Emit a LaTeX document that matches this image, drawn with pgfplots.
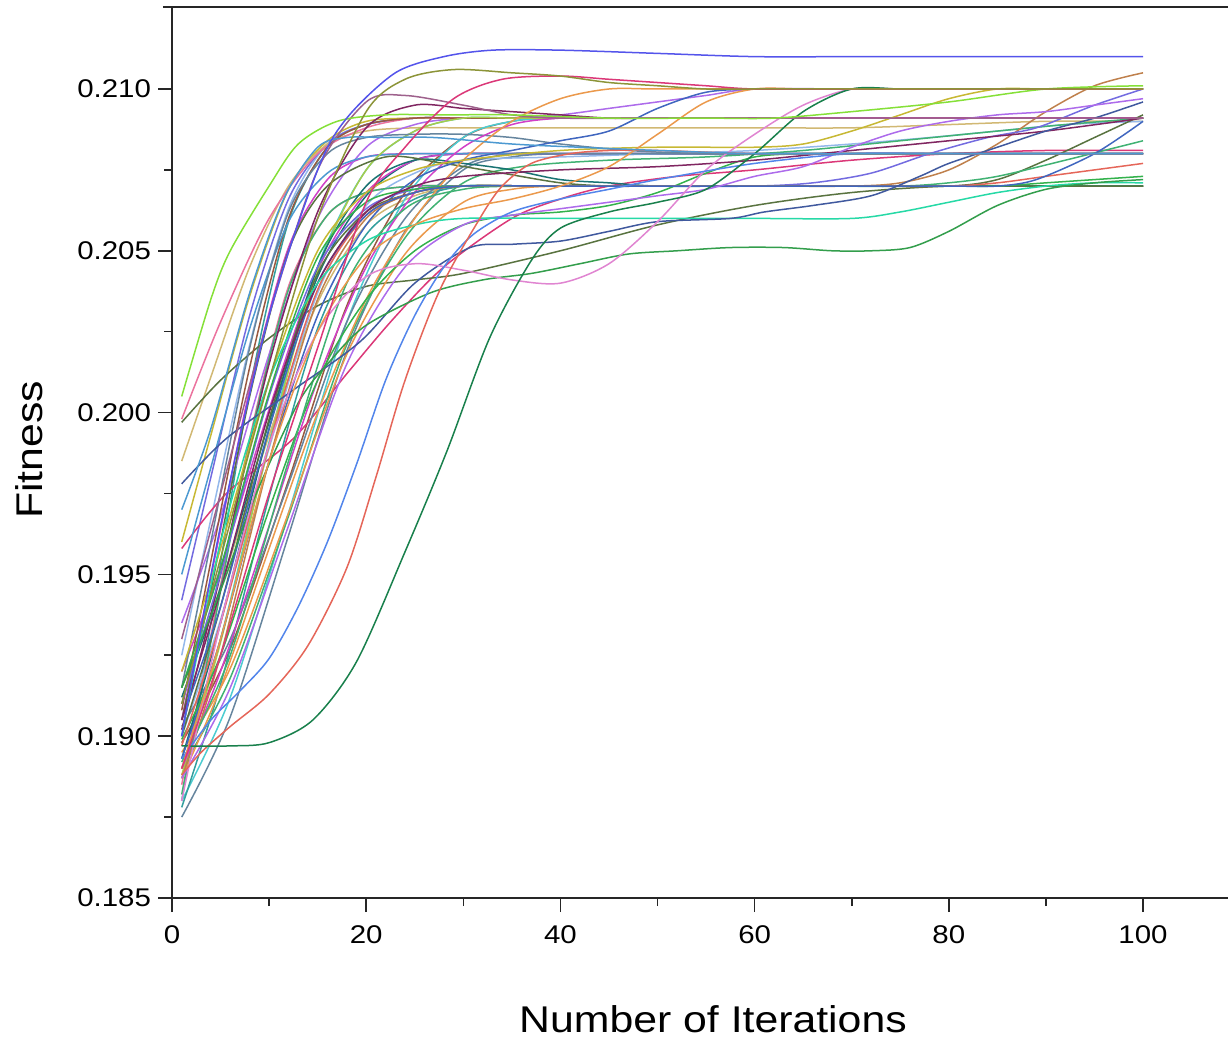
\documentclass[border=0pt]{standalone}
\usepackage{fontspec}
\setmainfont{Liberation Sans}[FakeStretch=1.15]
\usepackage{pgfplots}
\pgfplotsset{compat=1.18}
\newcommand\tickfont{\fontsize{12.8bp}{15bp}\selectfont}
\newcommand\labfont{\fontsize{18.6bp}{22bp}\selectfont}
\definecolor{cA}{rgb}{0.33,0.33,0.92}
\definecolor{cB}{rgb}{0.55,0.58,0.22}
\definecolor{cC}{rgb}{0.86,0.22,0.47}
\definecolor{cD}{rgb}{0.52,0.88,0.22}
\definecolor{cE}{rgb}{0.30,0.60,0.82}
\definecolor{cF}{rgb}{0.62,0.38,0.55}
\definecolor{cG}{rgb}{0.10,0.50,0.30}
\definecolor{cH}{rgb}{0.90,0.40,0.35}
\definecolor{cI}{rgb}{0.32,0.52,0.92}
\definecolor{cJ}{rgb}{0.88,0.52,0.82}
\definecolor{cK}{rgb}{0.20,0.62,0.30}
\definecolor{cL}{rgb}{0.25,0.35,0.62}
\definecolor{cM}{rgb}{0.15,0.85,0.65}
\definecolor{cN}{rgb}{0.75,0.50,0.30}
\definecolor{cO}{rgb}{0.78,0.72,0.20}
\definecolor{cP}{rgb}{0.68,0.42,0.92}
\definecolor{cQ}{rgb}{0.50,0.15,0.38}
\definecolor{cR}{rgb}{0.20,0.62,0.62}
\definecolor{cS}{rgb}{0.30,0.80,0.82}
\definecolor{cT}{rgb}{0.45,0.42,0.88}
\definecolor{cU}{rgb}{0.35,0.45,0.25}
\definecolor{cV}{rgb}{0.82,0.25,0.78}
\definecolor{cW}{rgb}{0.92,0.60,0.30}
\definecolor{cX}{rgb}{0.82,0.72,0.45}
\definecolor{cY}{rgb}{0.58,0.72,0.92}
\definecolor{cZ}{rgb}{0.40,0.52,0.62}
\definecolor{ca}{rgb}{0.15,0.25,0.55}
\definecolor{cb}{rgb}{0.25,0.70,0.45}
\definecolor{cc}{rgb}{0.92,0.45,0.62}
\definecolor{cd}{rgb}{0.60,0.35,0.25}
\definecolor{ce}{rgb}{0.65,0.80,0.30}
\definecolor{cf}{rgb}{0.10,0.45,0.45}
\definecolor{cg}{rgb}{0.20,0.70,0.30}
\definecolor{ch}{rgb}{0.25,0.40,0.75}
\begin{document}
\begin{tikzpicture}
\useasboundingbox (-86bp,-72.5bp) rectangle (528bp,449bp);
\begin{axis}[
 name=ax, at={(0,0)}, anchor=south west,
 scale only axis, width=528bp, height=445.5bp,
 xmin=0, xmax=108.75, ymin=0.185, ymax=0.212534,
 axis lines=left, axis line style={-, line width=0.8bp, black!85},
 tick style={line width=0.8bp, black!85},
 tick align=outside, major tick length=7bp, minor tick length=4bp,
 xtick={0,20,40,60,80,100}, minor xtick={10,30,50,70,90},
 ytick={0.185,0.190,0.195,0.200,0.205,0.210},
 minor ytick={0.1875,0.1925,0.1975,0.2025,0.2075},
 scaled y ticks=false,
 yticklabel style={/pgf/number format/fixed, /pgf/number format/fixed zerofill, /pgf/number format/precision=3},
 xticklabel style={yshift=-3.5bp},
 tick label style={font=\tickfont, /pgf/number format/assume math mode=true},
 xlabel={Number of Iterations}, ylabel={Fitness},
 every axis x label/.style={at={(axis description cs:0.5123,-0.1504)}, anchor=base, font=\labfont},
 every axis y label/.style={at={(axis description cs:-0.1231,0.5028)}, anchor=base, rotate=90, font=\labfont},
 every axis plot/.append style={smooth, line width=0.75bp, no markers},
]
% generic curves
\addplot[cR] coordinates {(1,0.1880)(4,0.1935)(8,0.2007)(12,0.2059)(16,0.2082)(20,0.2089)(25,0.2091)(30,0.2091)(40,0.2091)(50,0.2091)(60,0.2091)(70,0.2091)(80,0.2091)(90,0.2091)(100,0.2091)};
\addplot[cS] coordinates {(1,0.1890)(5,0.1930)(10,0.1991)(15,0.2045)(20,0.2075)(25,0.2087)(30,0.2091)(35,0.2091)(40,0.2091)(50,0.2091)(60,0.2091)(70,0.2091)(80,0.2091)(90,0.2091)(100,0.2091)};
\addplot[cV] coordinates {(1,0.1905)(4,0.1949)(8,0.2007)(12,0.2051)(16,0.2072)(20,0.2079)(25,0.2080)(30,0.2080)(40,0.2080)(50,0.2080)(60,0.2080)(70,0.2080)(80,0.2080)(90,0.2080)(100,0.2080)};
\addplot[cX] coordinates {(1,0.1915)(5,0.1946)(10,0.1993)(15,0.2034)(20,0.2058)(25,0.2067)(30,0.2070)(35,0.2070)(40,0.2070)(50,0.2070)(60,0.2070)(70,0.2070)(80,0.2070)(90,0.2070)(100,0.2070)};
\addplot[cY] coordinates {(1,0.1925)(4,0.1967)(8,0.2021)(12,0.2063)(16,0.2083)(20,0.2089)(25,0.2091)(30,0.2091)(40,0.2091)(50,0.2091)(60,0.2091)(70,0.2091)(80,0.2091)(90,0.2091)(100,0.2091)};
\addplot[cZ] coordinates {(1,0.1875)(6,0.1906)(12,0.1962)(18,0.2019)(24,0.2056)(30,0.2075)(35,0.2079)(40,0.2080)(50,0.2080)(60,0.2080)(70,0.2080)(80,0.2080)(90,0.2080)(100,0.2080)};
\addplot[cT] coordinates {(1,0.1942)(4,0.1980)(8,0.2030)(12,0.2066)(16,0.2083)(20,0.2089)(25,0.2091)(30,0.2091)(40,0.2091)(50,0.2091)(60,0.2091)(70,0.2091)(80,0.2091)(90,0.2091)(100,0.2091)};
\addplot[cc] coordinates {(1,0.1885)(4,0.1931)(8,0.1992)(12,0.2039)(16,0.2061)(20,0.2068)(25,0.2070)(30,0.2070)(40,0.2070)(50,0.2070)(60,0.2070)(70,0.2070)(80,0.2070)(90,0.2070)(100,0.2070)};
\addplot[cd] coordinates {(1,0.1898)(6,0.1927)(12,0.1979)(18,0.2033)(24,0.2068)(30,0.2085)(35,0.2090)(40,0.2091)(50,0.2091)(60,0.2091)(70,0.2091)(80,0.2091)(90,0.2091)(100,0.2091)};
\addplot[cf] coordinates {(1,0.1912)(5,0.1946)(10,0.1997)(15,0.2042)(20,0.2067)(25,0.2078)(30,0.2080)(35,0.2080)(40,0.2080)(50,0.2080)(60,0.2080)(70,0.2080)(80,0.2080)(90,0.2080)(100,0.2080)};
\addplot[cC] coordinates {(1,0.1958)(5.6,0.1975)(12.5,0.1992)(18,0.2012)(22.8,0.2029)(28,0.2045)(35,0.2060)(40,0.2066)(45,0.2070)(52,0.2073)(60,0.2075)(70,0.2078)(80,0.2080)(90,0.2081)(100,0.2081)};
\addplot[cO] coordinates {(1,0.1960)(4,0.1993)(8,0.2036)(12,0.2069)(16,0.2084)(20,0.2090)(25,0.2091)(30,0.2091)(40,0.2091)(50,0.2091)(60,0.2091)(70,0.2091)(80,0.2091)(90,0.2091)(100,0.2091)};
\addplot[cX] coordinates {(1,0.1985)(4,0.2011)(8,0.2045)(12,0.2070)(16,0.2083)(20,0.2087)(25,0.2088)(30,0.2088)(40,0.2088)(50,0.2088)(60,0.2088)(70,0.2088)(80,0.2089)(90,0.2090)(100,0.2090)};
\addplot[cc] coordinates {(1,0.1998)(5,0.2028)(10,0.2060)(15,0.2080)(20,0.2088)(25,0.2091)(30,0.2091)(40,0.2091)(50,0.2091)(60,0.2091)(70,0.2091)(80,0.2091)(90,0.2091)(100,0.2091)};
\addplot[cU] coordinates {(1,0.1997)(5,0.2010)(10,0.2023)(15,0.2033)(20,0.2039)(25,0.2041)(30,0.2043)(40,0.2050)(50,0.2058)(60,0.2064)(70,0.2068)(80,0.2070)(90,0.2070)(100,0.2070)};
\addplot[cV] coordinates {(1,0.1920)(5,0.1952)(10,0.2001)(15,0.2044)(20,0.2068)(25,0.2078)(30,0.2080)(35,0.2080)(40,0.2080)(50,0.2080)(60,0.2080)(70,0.2080)(80,0.2080)(90,0.2080)(100,0.2080)};
\addplot[cS] coordinates {(1,0.1880)(6,0.1912)(12,0.1969)(18,0.2028)(24,0.2066)(30,0.2085)(35,0.2090)(40,0.2091)(50,0.2091)(60,0.2091)(70,0.2091)(80,0.2091)(90,0.2091)(100,0.2091)};
\addplot[cR] coordinates {(1,0.1878)(5,0.1916)(10,0.1974)(15,0.2026)(20,0.2055)(25,0.2066)(30,0.2070)(35,0.2070)(40,0.2070)(50,0.2070)(60,0.2070)(70,0.2070)(80,0.2070)(90,0.2070)(100,0.2070)};
\addplot[cY] coordinates {(1,0.1900)(5,0.1936)(10,0.1989)(15,0.2037)(20,0.2064)(25,0.2074)(30,0.2078)(40,0.2079)(50,0.2080)(60,0.2081)(70,0.2083)(78,0.2085)(85,0.2087)(92,0.2089)(100,0.2090)};
\addplot[cb] coordinates {(1,0.1890)(6,0.1918)(12,0.1968)(18,0.2021)(24,0.2054)(30,0.2071)(36,0.2076)(45,0.2078)(55,0.2079)(65,0.2081)(75,0.2084)(85,0.2087)(92,0.2089)(100,0.2091)};
\addplot[cP] coordinates {(1,0.1935)(5,0.1968)(10,0.2018)(15,0.2060)(20,0.2082)(25,0.2089)(30,0.2091)(35,0.2091)(40,0.2092)(45,0.2094)(50,0.2096)(55,0.2098)(60,0.2100)(70,0.2100)(80,0.2100)(90,0.2100)(100,0.2100)};
\addplot[cd] coordinates {(1,0.1908)(4,0.1954)(8,0.2014)(12,0.2060)(16,0.2082)(20,0.2089)(25,0.2091)(30,0.2091)(40,0.2091)(50,0.2091)(60,0.2091)(70,0.2091)(80,0.2091)(90,0.2091)(100,0.2091)};
\addplot[cW] coordinates {(1,0.1895)(6,0.1921)(12,0.1969)(18,0.2018)(24,0.2049)(30,0.2065)(35,0.2069)(40,0.2070)(50,0.2070)(60,0.2070)(70,0.2070)(80,0.2070)(90,0.2070)(100,0.2070)};
\addplot[cE] coordinates {(1,0.1950)(4,0.1983)(8,0.2026)(12,0.2059)(16,0.2074)(20,0.2079)(25,0.2080)(30,0.2080)(40,0.2080)(50,0.2080)(60,0.2080)(70,0.2080)(80,0.2080)(90,0.2080)(100,0.2080)};
\addplot[ce] coordinates {(1,0.1888)(5,0.1929)(10,0.1990)(15,0.2044)(20,0.2075)(25,0.2087)(30,0.2091)(35,0.2091)(40,0.2091)(50,0.2091)(60,0.2091)(70,0.2091)(80,0.2091)(90,0.2091)(100,0.2091)};
\addplot[cZ] coordinates {(1,0.1903)(6,0.1930)(12,0.1978)(18,0.2028)(24,0.2060)(30,0.2076)(35,0.2080)(40,0.2080)(50,0.2080)(60,0.2080)(70,0.2080)(80,0.2080)(90,0.2080)(100,0.2080)};
\addplot[cb] coordinates {(1,0.1882)(4,0.1929)(8,0.1991)(12,0.2038)(16,0.2061)(20,0.2068)(25,0.2070)(30,0.2070)(40,0.2070)(50,0.2070)(60,0.2070)(70,0.2070)(80,0.2070)(90,0.2070)(100,0.2070)};
\addplot[cf] coordinates {(1,0.1893)(5,0.1935)(10,0.1995)(15,0.2045)(20,0.2070)(25,0.2078)(30,0.2077)(35,0.2075)(40,0.2072)(45,0.2071)(50,0.2070)(60,0.2070)(70,0.2070)(80,0.2070)(90,0.2070)(100,0.2070)};
\addplot[cU] coordinates {(1,0.1905)(4,0.1945)(8,0.2005)(12,0.2050)(16,0.2070)(22,0.2079)(28,0.2077)(34,0.2074)(40,0.2071)(45,0.2070)(50,0.2070)(60,0.2070)(70,0.2070)(80,0.2070)(90,0.2070)(100,0.2070)};
\addplot[cZ] coordinates {(1,0.1915)(4,0.1960)(8,0.2020)(12,0.2062)(16,0.2080)(20,0.2085)(25,0.2086)(30,0.2086)(35,0.2085)(40,0.2083)(47,0.2081)(55,0.2080)(65,0.2080)(75,0.2080)(85,0.2080)(100,0.2080)};
\addplot[cQ] coordinates {(1,0.1902)(5,0.1950)(10,0.2015)(15,0.2062)(20,0.2088)(25,0.2095)(30,0.2094)(35,0.2093)(40,0.2092)(45,0.2091)(50,0.2091)(60,0.2091)(70,0.2091)(80,0.2091)(90,0.2091)(100,0.2091)};
\addplot[cV] coordinates {(1,0.1890)(5,0.1920)(10,0.1965)(15,0.2010)(20,0.2045)(25,0.2068)(30,0.2082)(35,0.2089)(40,0.2091)(45,0.2091)(50,0.2091)(60,0.2091)(70,0.2091)(80,0.2091)(90,0.2091)(100,0.2091)};
\addplot[cW] coordinates {(1,0.1887)(5,0.1915)(10,0.1958)(15,0.2000)(20,0.2035)(25,0.2060)(30,0.2078)(35,0.2090)(40,0.2097)(45,0.2100)(50,0.2100)(60,0.2100)(70,0.2100)(80,0.2100)(90,0.2100)(100,0.2100)};
\addplot[ch] coordinates {(1,0.1893)(5,0.1930)(10,0.1985)(15,0.2030)(20,0.2058)(25,0.2072)(30,0.2078)(35,0.2081)(40,0.2084)(45,0.2087)(50,0.2094)(55,0.2099)(60,0.2100)(65,0.2100)(70,0.2100)(80,0.2100)(90,0.2100)(100,0.2100)};
\addplot[cg] coordinates {(1,0.1899)(5,0.1925)(10,0.1970)(15,0.2010)(20,0.2035)(25,0.2050)(30,0.2058)(35,0.2061)(40,0.2062)(45,0.2064)(50,0.2068)(55,0.2074)(60,0.2079)(65,0.2080)(70,0.2080)(80,0.2080)(90,0.2080)(100,0.2080)};
% late risers
\addplot[cN] coordinates {(1,0.1887)(5,0.1925)(10,0.1985)(15,0.2035)(20,0.2060)(25,0.2068)(30,0.2070)(40,0.2070)(50,0.2070)(60,0.2070)(70,0.2070)(75,0.2071)(80,0.2075)(85,0.2083)(90,0.2093)(95,0.2101)(100,0.2105)};
\addplot[cT] coordinates {(1,0.1910)(5,0.1950)(10,0.2005)(15,0.2045)(20,0.2063)(25,0.2069)(30,0.2070)(40,0.2070)(50,0.2070)(60,0.2070)(66,0.2071)(72,0.2074)(78,0.2080)(84,0.2085)(89,0.2088)(95,0.2095)(100,0.2100)};
\addplot[cU] coordinates {(1,0.1900)(5,0.1940)(10,0.1998)(15,0.2043)(20,0.2062)(25,0.2068)(30,0.2070)(40,0.2070)(50,0.2070)(60,0.2070)(70,0.2070)(80,0.2070)(85,0.2072)(90,0.2078)(95,0.2085)(100,0.2092)};
\addplot[cb] coordinates {(1,0.1892)(6,0.1925)(12,0.1985)(18,0.2040)(24,0.2063)(30,0.2069)(36,0.2070)(45,0.2070)(55,0.2070)(65,0.2070)(75,0.2070)(80,0.2071)(85,0.2073)(92,0.2078)(100,0.2084)};
\addplot[cg] coordinates {(1,0.1915)(5,0.1952)(10,0.2006)(15,0.2048)(20,0.2065)(25,0.2069)(30,0.2070)(40,0.2070)(50,0.2070)(60,0.2070)(70,0.2070)(80,0.2070)(85,0.2070)(90,0.2071)(95,0.2072)(100,0.2073)};
\addplot[cH] coordinates {(1,0.1897)(5,0.1935)(10,0.1990)(15,0.2038)(20,0.2061)(25,0.2068)(30,0.2070)(40,0.2070)(50,0.2070)(60,0.2070)(70,0.2070)(80,0.2070)(85,0.2071)(90,0.2073)(95,0.2075)(100,0.2077)};
\addplot[ch] coordinates {(1,0.1905)(5,0.1940)(10,0.1995)(15,0.2040)(20,0.2061)(25,0.2068)(30,0.2070)(40,0.2070)(50,0.2070)(60,0.2070)(70,0.2070)(80,0.2070)(85,0.2070)(89,0.2072)(95,0.2080)(100,0.2090)};
\addplot[cQ] coordinates {(1,0.1905)(5,0.1945)(10,0.2000)(15,0.2040)(20,0.2062)(25,0.2070)(30,0.2073)(40,0.2075)(50,0.2076)(60,0.2078)(70,0.2081)(80,0.2084)(90,0.2087)(100,0.2091)};
\addplot[cO] coordinates {(1,0.1920)(5,0.1958)(10,0.2010)(15,0.2050)(20,0.2068)(25,0.2075)(30,0.2078)(40,0.2081)(50,0.2082)(60,0.2082)(65,0.2083)(70,0.2087)(75,0.2092)(80,0.2097)(85,0.2100)(90,0.2100)(100,0.2100)};
\addplot[cP] coordinates {(1,0.1887)(6,0.1915)(12,0.1965)(18,0.2015)(24,0.2045)(30,0.2058)(35,0.2061)(40,0.2063)(45,0.2065)(50,0.2067)(55,0.2069)(60,0.2073)(65,0.2076)(70,0.2082)(75,0.2087)(80,0.2090)(85,0.2092)(90,0.2093)(95,0.2095)(100,0.2097)};
% distinctive curves
\addplot[cM] coordinates {(1,0.1900)(5,0.1960)(10,0.2010)(15,0.2040)(20,0.2053)(25,0.2058)(30,0.2060)(40,0.2060)(50,0.2060)(60,0.2060)(70,0.2060)(75,0.2062)(80,0.2065)(85,0.2068)(90,0.2070)(95,0.2071)(100,0.2071)};
\addplot[cL] coordinates {(1,0.1978)(5.6,0.1992)(12.5,0.2007)(19.4,0.2022)(25,0.2040)(30.7,0.2051)(35,0.2052)(40,0.2053)(45,0.2056)(50,0.2059)(57.5,0.2060)(61,0.2062)(66,0.2064)(72,0.2067)(77,0.2073)(80,0.2077)(85,0.2082)(90,0.2087)(95,0.2091)(100,0.2096)};
\addplot[cK] coordinates {(1,0.1915)(5,0.1945)(8.4,0.1973)(13,0.2003)(16.3,0.2016)(20,0.2027)(26.6,0.2037)(32,0.2041)(37,0.2043)(42,0.2046)(47,0.2049)(52,0.2050)(57.5,0.2051)(63,0.2051)(68,0.2050)(72,0.2050)(76,0.2051)(80,0.2056)(85,0.2064)(90,0.2069)(95,0.2071)(100,0.2072)};
\addplot[cJ] coordinates {(1,0.1880)(5,0.1935)(10,0.1990)(15,0.2025)(20,0.2042)(25,0.2046)(30,0.2044)(35,0.2041)(40,0.2040)(45,0.2046)(50,0.2059)(55,0.2075)(60,0.2086)(65,0.2095)(70,0.2100)(75,0.2100)(80,0.2100)(90,0.2100)(100,0.2100)};
\addplot[cI] coordinates {(1,0.1893)(4,0.1905)(7,0.1914)(10,0.1924)(13,0.1940)(16,0.1960)(19,0.1984)(22,0.2010)(25,0.2030)(28,0.2045)(31,0.2055)(35,0.2062)(40,0.2066)(45,0.2069)(50,0.2072)(60,0.2077)(70,0.2080)(80,0.2080)(90,0.2080)(100,0.2080)};
\addplot[cH] coordinates {(1,0.1888)(3,0.1895)(6,0.1903)(10,0.1913)(14,0.1928)(18,0.1952)(21,0.1980)(24,0.2010)(27.6,0.2038)(31.7,0.2060)(34,0.2070)(37,0.2077)(41,0.2080)(45,0.2081)(50,0.2081)(60,0.2080)(70,0.2080)(80,0.2080)(90,0.2080)(100,0.2080)};
\addplot[cG] coordinates {(1,0.1897)(6,0.1897)(10,0.1898)(14.5,0.1905)(19,0.1923)(24,0.1957)(28.3,0.1988)(32.7,0.2023)(37,0.2047)(40,0.2057)(45,0.2062)(50,0.2065)(55,0.2069)(60,0.2080)(65,0.2093)(70,0.2100)(75,0.2100)(80,0.2100)(90,0.2100)(100,0.2100)};
\addplot[cW] coordinates {(1,0.1890)(5,0.1930)(10,0.1985)(15,0.2025)(20,0.2048)(25,0.2058)(30,0.2063)(35,0.2066)(40,0.2070)(45,0.2076)(50,0.2086)(55,0.2096)(60,0.2100)(65,0.2100)(70,0.2100)(80,0.2100)(90,0.2100)(100,0.2100)};
\addplot[cF] coordinates {(1,0.1930)(5,0.1975)(10,0.2030)(15,0.2075)(20,0.2096)(24,0.2098)(30,0.2095)(35,0.2092)(40,0.2091)(50,0.2091)(60,0.2091)(70,0.2091)(80,0.2091)(90,0.2091)(100,0.2091)};
\addplot[cE] coordinates {(1,0.1970)(4,0.1995)(8,0.2037)(11.5,0.2066)(15,0.2082)(18,0.2085)(22,0.2085)(27,0.2085)(35,0.2083)(42,0.2082)(50,0.2081)(60,0.2080)(70,0.2080)(80,0.2080)(90,0.2080)(100,0.2080)};
\addplot[cD] coordinates {(1,0.2005)(4,0.2035)(6,0.2050)(10,0.2070)(13,0.2083)(17,0.2090)(22,0.2092)(28,0.2092)(35,0.2092)(45,0.2091)(55,0.2091)(62,0.2091)(70,0.2093)(80,0.2096)(90,0.2100)(100,0.2101)};
\addplot[cC] coordinates {(1,0.1890)(5,0.1925)(10,0.1975)(15,0.2020)(20,0.2065)(24,0.2082)(29,0.2097)(34,0.2103)(40,0.2104)(45,0.2103)(50,0.2102)(55,0.2101)(60,0.2100)(70,0.2100)(80,0.2100)(90,0.2100)(100,0.2100)};
\addplot[cB] coordinates {(1,0.1910)(5,0.1955)(10,0.2010)(15,0.2060)(20,0.2093)(24,0.2103)(29,0.2106)(35,0.2105)(40,0.2104)(45,0.2102)(50,0.2101)(55,0.2100)(60,0.2100)(70,0.2100)(80,0.2100)(90,0.2100)(100,0.2100)};
\addplot[cA] coordinates {(1,0.1900)(5,0.1965)(10,0.2030)(15,0.2075)(18,0.2091)(23,0.2105)(28,0.2110)(33,0.2112)(40,0.2112)(50,0.2111)(60,0.2110)(70,0.2110)(80,0.2110)(90,0.2110)(100,0.2110)};
\end{axis}
\draw[line width=0.8bp, black!85] ([xshift=-4.5bp]ax.north west) -- (ax.north east);
\end{tikzpicture}
\end{document}
